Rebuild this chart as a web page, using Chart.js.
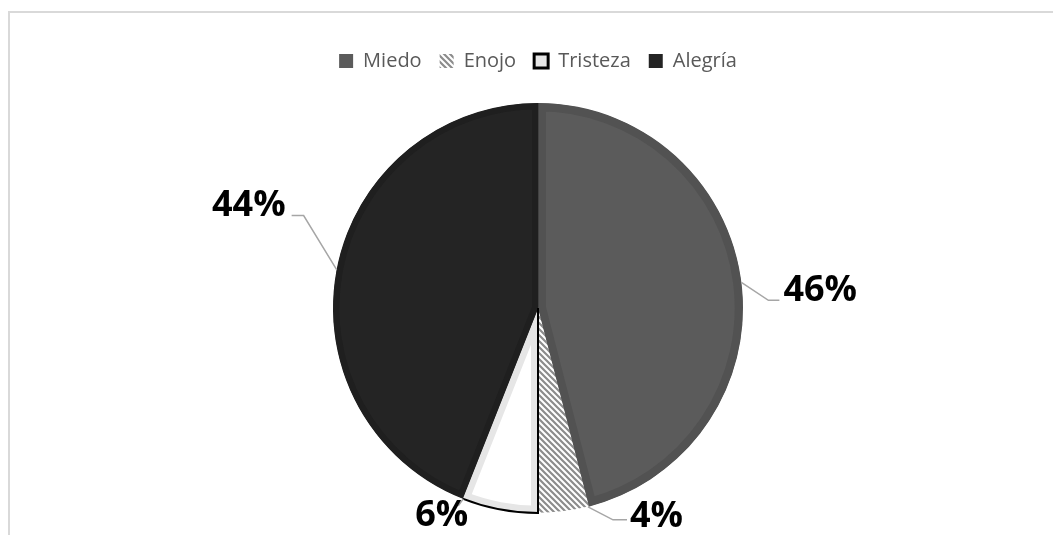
<!DOCTYPE html>
<html>
<head>
<meta charset="utf-8">
<script src="https://cdn.jsdelivr.net/npm/chart.js@4"></script>
<style>
  html, body { margin: 0; padding: 0; background: #fff; }
  #wrap { width: 1053px; height: 535px; }
</style>
</head>
<body>
<div id="wrap"><canvas id="myChart" width="1053" height="535"></canvas></div>
<script>
const categories = ["Miedo", "Enojo", "Tristeza", "Alegría"];
const percentages = [46, 4, 6, 44];
const pctLabels = ["46%", "4%", "6%", "44%"];

// hatch pattern for Enojo
function makeHatch() {
    const c = document.createElement('canvas');
    c.width = 6; c.height = 6;
    const g = c.getContext('2d');
    g.fillStyle = '#ffffff';
    g.fillRect(0, 0, 6, 6);
    g.strokeStyle = '#8c8c8c';
    g.lineWidth = 2.2;
    g.beginPath();
    g.moveTo(-1, -1); g.lineTo(7, 7);
    g.moveTo(-4, 2); g.lineTo(4, 10);
    g.moveTo(2, -4); g.lineTo(10, 4);
    g.stroke();
    return document.getElementById('myChart').getContext('2d').createPattern(c, 'repeat');
}
const hatch = makeHatch();

const fills = ['#5b5b5b', hatch, '#ffffff', '#242424'];
const borders = ['#525252', hatch, '#e6e6e6', '#1f1f1f'];
const borderWidths = [8, 0, 7, 6];

// leader line / label placement per slice
// at: fraction along the slice arc; leg: elbow offset; tail: horizontal run
const labelCfg = [
    { at: 0.5,  leg: [27, 18],  tail: 11,  align: 'left',  dx: 4,  dy: 1 },
    { at: 0.02, leg: [25, 13],  tail: 14,  align: 'left',  dx: 3,  dy: 7 },
    { at: 0.99, leg: [-5, 7],   tail: 0,   align: 'right', dx: 10, dy: 20 },
    { at: 0.5,  leg: [-33, -54], tail: -12, align: 'right', dx: -6, dy: 0 }
];

// light grey frame (top and left edges visible)
const framePlugin = {
    id: 'frame',
    beforeDraw(chart) {
        const ctx = chart.ctx;
        ctx.save();
        ctx.strokeStyle = '#d9d9d9';
        ctx.lineWidth = 2;
        ctx.beginPath();
        ctx.moveTo(9, chart.height);
        ctx.lineTo(9, 12);
        ctx.lineTo(chart.width, 12);
        ctx.stroke();
        ctx.restore();
    }
};

// black outline on Tristeza + percentage labels with leader lines
const labelPlugin = {
    id: 'pctLabels',
    afterDatasetsDraw(chart) {
        const ctx = chart.ctx;
        const arcs = chart.getDatasetMeta(0).data;

        const t = arcs[2];
        ctx.save();
        ctx.strokeStyle = '#000';
        ctx.lineWidth = 2;
        ctx.beginPath();
        ctx.moveTo(t.x, t.y);
        ctx.arc(t.x, t.y, t.outerRadius, t.startAngle, t.endAngle);
        ctx.stroke();
        ctx.restore();

        arcs.forEach((a, i) => {
            const cfg = labelCfg[i];
            const ang = a.startAngle + (a.endAngle - a.startAngle) * cfg.at;
            const x0 = a.x + Math.cos(ang) * a.outerRadius;
            const y0 = a.y + Math.sin(ang) * a.outerRadius;
            const x1 = x0 + cfg.leg[0], y1 = y0 + cfg.leg[1];
            const x2 = x1 + cfg.tail;
            ctx.save();
            ctx.strokeStyle = '#a6a6a6';
            ctx.lineWidth = 1.5;
            ctx.beginPath();
            ctx.moveTo(x0, y0); ctx.lineTo(x1, y1); ctx.lineTo(x2, y1);
            ctx.stroke();
            ctx.fillStyle = '#000';
            ctx.font = 'bold 36px "Open Sans"';
            ctx.textAlign = cfg.align;
            ctx.textBaseline = 'alphabetic';
            ctx.fillText(pctLabels[i], x2 + cfg.dx, y1 + cfg.dy);
            ctx.restore();
        });
    }
};

const data = {
    labels: categories,
    datasets: [{
        data: percentages,
        backgroundColor: fills,
        borderColor: borders,
        borderWidth: borderWidths,
        borderAlign: 'inner',
        radius: 205
    }]
};

const config = {
    type: 'pie',
    data: data,
    options: {
        responsive: false,
        animation: false,
        layout: {
            padding: { top: 33, bottom: 0, left: 23, right: 0 }
        },
        plugins: {
            tooltip: { enabled: false },
            legend: {
                position: 'top',
                labels: {
                    font: { family: 'Open Sans', size: 20 },
                    color: '#595959',
                    boxWidth: 14,
                    boxHeight: 14,
                    padding: 18,
                    generateLabels(chart) {
                        return categories.map((c, i) => ({
                            text: c,
                            fillStyle: i === 2 ? '#e6e6e6' : fills[i],
                            strokeStyle: i === 2 ? '#000' : 'rgba(0,0,0,0)',
                            lineWidth: i === 2 ? 3 : 0,
                            fontColor: '#595959',
                            index: i,
                            datasetIndex: 0
                        }));
                    }
                }
            }
        }
    },
    plugins: [framePlugin, labelPlugin]
};

const myChart = new Chart(
    document.getElementById('myChart'),
    config
);
</script>
</body>
</html>
